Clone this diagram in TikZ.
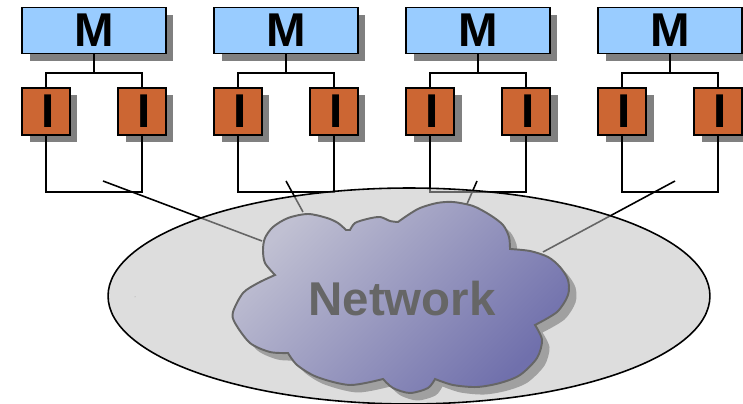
\documentclass[tikz,border=0pt]{standalone}
\usepackage{fontspec}
\setmainfont{Liberation Sans}
\usetikzlibrary{shadows}
\definecolor{membox}{HTML}{99CCFF}
\definecolor{procbox}{HTML}{CC6633}
\definecolor{netdisc}{HTML}{BFBFBF}
\definecolor{netedge}{HTML}{666666}
\definecolor{boxshadow}{HTML}{808080}
\definecolor{cloudshadow}{HTML}{A0A0A0}
\definecolor{cloudlight}{HTML}{C0C0D2}
\definecolor{clouddark}{HTML}{7070AC}
\tikzset{
  boxnode/.style={draw=black,line width=.9pt,inner sep=0pt,font=\fontsize{27}{27}\bfseries\selectfont,
    general shadow={fill=boxshadow,shadow xshift=.15cm,shadow yshift=-.15cm}},
  memnode/.style={boxnode,fill=membox,minimum width=2.88cm,minimum height=.92cm},
  procnode/.style={boxnode,fill=procbox,minimum width=.96cm,minimum height=.94cm},
  wire/.style={line width=.9pt,draw=black}
}
\newcommand{\cloudpath}{
  plot[smooth] coordinates {(275,275)(265,263)(263,250)(265,238)(273,227)(288,218)(308,214)(327,218)(338,223)(346,230)}
  -- plot[smooth] coordinates {(350,230)(355,223)(367,219)(380,217)(390,221)(398,222)}
  -- plot[smooth] coordinates {(398,222)(408,215)(420,208)(437,203)(453,202)(473,206)(490,215)(503,225)(509,237)(510,249)}
  -- plot[smooth] coordinates {(510,249)(530,251)(548,257)(560,267)(568,280)(568,295)(557,312)(535,325)}
  -- plot[smooth] coordinates {(535,325)(542,340)(537,358)(520,375)(500,383)(477,387)(453,385)(435,379)}
  -- plot[smooth] coordinates {(435,379)(428,388)(410,393)(393,388)(383,379)}
  -- plot[smooth] coordinates {(383,379)(350,385)(317,377)(297,365)(288,353)}
  -- plot[smooth] coordinates {(288,353)(270,352)(250,343)(235,323)(233,312)(243,293)(258,283)(275,275)}
  -- cycle}
\begin{document}
\begin{tikzpicture}[x=.02cm,y=-.02cm]
\useasboundingbox (0,0) rectangle (743,404);
\clip (0,0) rectangle (743,404);

% one group: memory, two processors, the loop under them
\foreach \n/\x/\tx/\ex/\ey in {1/0/103/262/241,2/192/286/303/212,3/384/477/467/204,4/576/675/543/252} {
  \node [memnode] (mem\n) at (94+\x,30.5) {M};
  \node [procnode] (proca\n) at (46+\x,111.5) {\hspace{.08cm}I};
  \node [procnode] (procb\n) at (142+\x,111.5) {\hspace{.08cm}I};
  \coordinate (top\n) at (94+\x,73);
  \coordinate (bot\n) at (46+\x,192);
  \coordinate (tap\n) at (\tx,181);
  \coordinate (end\n) at (\ex,\ey);
  \draw [wire] (mem\n.south) -- (top\n);
  \draw [wire] (proca\n.north) |- (top\n) -| (procb\n.north);
  \draw [wire] (proca\n.south) -- (bot\n) -| (procb\n.south);
  \draw [wire] (tap\n) -- (end\n);
}

% the disc lies over the wires and greys them
\fill [netdisc,fill opacity=.533] (409,296) ellipse [x radius=6.02cm,y radius=2.16cm];
\draw [line width=.9pt] (409,296) ellipse [x radius=6.02cm,y radius=2.16cm];
\fill [black] (135,297) circle [radius=.25];

\fill [cloudshadow,xshift=.15cm,yshift=-.15cm] \cloudpath;
\draw [draw=netedge,line width=1.1pt,shading=axis,top color=cloudlight,bottom color=clouddark,shading angle=45] \cloudpath;
\node [text=netedge,font=\fontsize{27}{27}\bfseries\selectfont] (net) at (402,299) {Network};
\end{tikzpicture}
\end{document}
